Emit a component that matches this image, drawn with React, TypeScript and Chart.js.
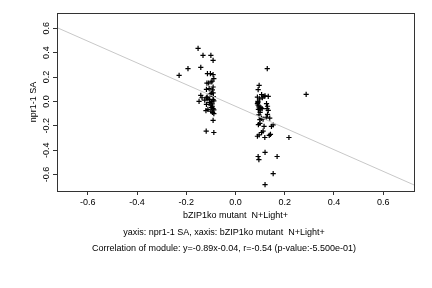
import React, { useEffect, useRef } from "react";
import { Chart, registerables } from "chart.js";

Chart.register(...registerables);

const xTickValues = [-0.6, -0.4, -0.2, 0.0, 0.2, 0.4, 0.6];
const yTickValues = [-0.6, -0.4, -0.2, 0.0, 0.2, 0.4, 0.6];

const X_TITLE = "bZIP1ko mutant  N+Light+";
const Y_TITLE = "npr1-1 SA";
const CAPTION_1 = "yaxis: npr1-1 SA, xaxis: bZIP1ko mutant  N+Light+";
const CAPTION_2 = "Correlation of module: y=-0.89x-0.04, r=-0.54 (p-value:-5.500e-01)";

const fitSlope = -0.89;
const fitIntercept = -0.04;
const xLimits = [-0.725, 0.725];
const yLimits = [-0.735, 0.725];

// group 1 (left cluster)
const leftX = [
  -0.152, -0.132, -0.100, -0.091, -0.193, -0.141, -0.229, -0.114, -0.102, -0.091,
  -0.088, -0.109, -0.099, -0.095, -0.116, -0.091, -0.118, -0.107, -0.094, -0.098,
  -0.091, -0.141, -0.136, -0.148, -0.118, -0.112, -0.105, -0.091, -0.088, -0.097,
  -0.105, -0.118, -0.100, -0.094, -0.091, -0.088, -0.112, -0.120, -0.097, -0.100,
  -0.093, -0.088, -0.091, -0.119, -0.088, -0.095, -0.090, -0.103, -0.115, -0.125,
];
const leftY = [
  0.435, 0.378, 0.378, 0.337, 0.269, 0.279, 0.214, 0.227, 0.227, 0.219,
  0.186, 0.151, 0.159, 0.165, 0.150, 0.118, 0.099, 0.104, 0.095, 0.063,
  0.070, 0.049, 0.030, 0.000, 0.030, 0.020, 0.015, 0.015, 0.005, 0.000,
  -0.010, -0.025, -0.030, -0.040, -0.060, -0.070, -0.065, -0.075, -0.050, -0.080,
  -0.090, -0.100, -0.156, -0.244, -0.255, -0.020, 0.040, 0.060, 0.035, 0.010,
];

// group 2 (right cluster)
const rightX = [
  0.129, 0.096, 0.092, 0.287, 0.089, 0.106, 0.116, 0.133, 0.089, 0.126,
  0.130, 0.092, 0.095, 0.098, 0.093, 0.100, 0.133, 0.130, 0.139, 0.099,
  0.105, 0.112, 0.095, 0.153, 0.146, 0.116, 0.099, 0.093, 0.217, 0.112,
  0.106, 0.096, 0.089, 0.137, 0.142, 0.119, 0.120, 0.169, 0.092, 0.095,
  0.153, 0.120, 0.091, 0.103, 0.108, 0.128, 0.100, 0.125, 0.109, 0.120,
  0.091, 0.098,
];
const rightY = [
  0.269, 0.131, 0.096, 0.058, 0.035, 0.055, 0.041, 0.041, -0.019, -0.019,
  -0.040, -0.030, -0.045, -0.055, -0.065, -0.070, -0.074, -0.107, -0.137, -0.150,
  -0.140, -0.145, -0.110, -0.192, -0.205, -0.205, -0.180, -0.190, -0.296, -0.244,
  -0.255, -0.274, -0.286, -0.279, -0.270, -0.296, -0.419, -0.452, -0.452, -0.477,
  -0.592, -0.682, 0.000, -0.050, -0.060, -0.060, -0.090, -0.130, 0.030, 0.045,
  -0.010, 0.020,
];

const FONT = "'Liberation Sans', Arial, Helvetica, sans-serif";

const textPlugin = {
  id: "rTexts",
  afterDraw(chart: any) {
    const ctx = chart.ctx as CanvasRenderingContext2D;
    const { left, right, top, bottom } = chart.chartArea;
    ctx.save();
    // box
    ctx.strokeStyle = "#333";
    ctx.lineWidth = 1;
    ctx.strokeRect(Math.round(left) + 0.5, Math.round(top) + 0.5, Math.round(right - left), Math.round(bottom - top));
    ctx.fillStyle = "#000";
    ctx.font = `9px ${FONT}`;
    ctx.textAlign = "center";
    ctx.textBaseline = "middle";
    // y tick labels (rotated)
    const ys = chart.scales.y;
    ys.ticks.forEach((t: any) => {
      const py = ys.getPixelForValue(t.value);
      ctx.save();
      ctx.translate(47, py);
      ctx.rotate(-Math.PI / 2);
      ctx.fillText(t.value.toFixed(1), 0, 0);
      ctx.restore();
    });
    // y title
    ctx.save();
    ctx.translate(34, (top + bottom) / 2);
    ctx.rotate(-Math.PI / 2);
    ctx.fillText(Y_TITLE, 0, 0);
    ctx.restore();
    // x title and captions
    ctx.fillText(X_TITLE, (left + right) / 2, 216);
    ctx.fillText(CAPTION_1, 224, 232.5);
    ctx.fillText(CAPTION_2, 224, 248.5);
    ctx.restore();
  },
};

export default function App() {
  const ref = useRef<HTMLCanvasElement>(null);
  useEffect(() => {
    document.body.style.margin = "0";
    const pts = (xs: number[], ys: number[]) => xs.map((x, i) => ({ x, y: ys[i] }));
    const fitLine = xLimits.map((x) => ({ x, y: fitSlope * x + fitIntercept }));
    const chart = new Chart(ref.current!, {
      type: "scatter",
      data: {
        datasets: [
          {
            type: "line",
            data: fitLine,
            borderColor: "#c8c8c8",
            borderWidth: 1,
            pointRadius: 0,
            fill: false,
          } as any,
          {
            data: [...pts(leftX, leftY), ...pts(rightX, rightY)],
            pointStyle: "cross",
            pointRadius: 2.6,
            borderColor: "#000",
            borderWidth: 1.2,
            backgroundColor: "#000",
          },
        ],
      },
      options: {
        responsive: false,
        animation: false,
        layout: { padding: { left: 0, top: 13, right: 18, bottom: 0 } },
        plugins: { legend: { display: false }, tooltip: { enabled: false } },
        scales: {
          x: {
            type: "linear",
            min: xLimits[0],
            max: xLimits[1],
            afterBuildTicks: (s: any) => {
              s.ticks = xTickValues.map((v) => ({ value: v }));
            },
            afterFit: (s: any) => {
              s.height = 97;
            },
            grid: { drawOnChartArea: false, drawTicks: true, tickLength: 4, color: "#333" },
            border: { display: false },
            ticks: {
              color: "#000",
              font: { family: FONT, size: 9 },
              padding: 2,
              maxRotation: 0,
              autoSkip: false,
              callback: (v: any) => Number(v).toFixed(1),
            },
          },
          y: {
            type: "linear",
            min: yLimits[0],
            max: yLimits[1],
            afterBuildTicks: (s: any) => {
              s.ticks = yTickValues.map((v) => ({ value: v }));
            },
            afterFit: (s: any) => {
              s.width = 57;
            },
            grid: { drawOnChartArea: false, drawTicks: true, tickLength: 4, color: "#333" },
            border: { display: false },
            ticks: { display: false },
          },
        },
      },
      plugins: [textPlugin],
    });
    return () => chart.destroy();
  }, []);
  return (
    <div style={{ position: "fixed", left: 0, top: 0, width: 432, height: 288, background: "#fff" }}>
      <canvas ref={ref} width={432} height={288} />
    </div>
  );
}
